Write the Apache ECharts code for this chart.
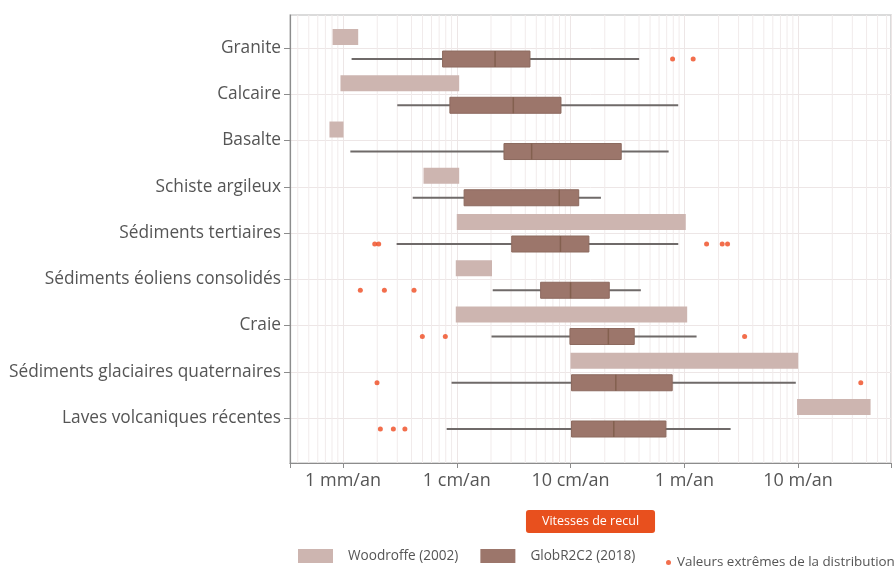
<!DOCTYPE html>
<html>
<head>
<meta charset="utf-8">
<script src="https://cdn.jsdelivr.net/npm/echarts@6/dist/echarts.min.js"></script>
<style>html,body{margin:0;padding:0;background:#fff}#c{width:895px;height:569px}</style>
</head>
<body>
<div id="c"></div>
<script>
// Categories (top to bottom)
const categories = ['Granite','Calcaire','Basalte','Schiste argileux','Sédiments tertiaires','Sédiments éoliens consolidés','Craie','Sédiments glaciaires quaternaires','Laves volcaniques récentes'];
// Values in mm/an
const woodroffeLow  = [0.81, 0.95, 0.76, 5.1, 10, 9.8, 9.8, 100, 9800];
const woodroffeHigh = [1.36, 10.5, 1.01, 10.5, 1030, 20.4, 1060, 10000, 43400];
const globMin = [1.19, 3.0, 1.16, 4.1, 2.96, 20.7, 20.2, 9.0, 8.15];
const globQ1  = [7.5, 8.7, 26, 11.6, 30.4, 54.6, 98.8, 102, 102];
const globMed = [21.7, 31.4, 45.5, 79.6, 81.5, 100, 215, 250, 240];
const globQ3  = [44, 82.4, 279, 118, 145, 219, 363, 783, 689];
const globMax = [401, 884, 728, 185, 885, 415, 1282, 9550, 2553];
// Outliers: [category index, value]
const outlierCat = [0, 0, 4, 4, 4, 4, 4, 5, 5, 5, 6, 6, 6, 7, 7, 8, 8, 8];
const outlierVal = [789, 1197, 1.9, 2.06, 1570, 2153, 2400, 1.42, 2.31, 4.21, 4.98, 7.93, 3390, 1.99, 35600, 2.13, 2.77, 3.5];
// Axis tick labels
const tickValues = [1, 10, 100, 1000, 10000];
const tickLabels = ['1 mm/an', '1 cm/an', '10 cm/an', '1 m/an', '10 m/an'];

const xMin = 0.342, xMax = 65600;
const yMin = -0.714, yMax = 8.973;

const minorVals = [];
for (let d = -1; d <= 4; d++) {
  for (let k = 2; k <= 9; k++) {
    const v = k * Math.pow(10, d);
    if (v > xMin && v < xMax) minorVals.push(v);
  }
}

const woodData = categories.map((c, i) => [woodroffeLow[i], woodroffeHigh[i], i]);
const boxData = categories.map((c, i) => [globMin[i], globQ1[i], globMed[i], globQ3[i], globMax[i], i]);
const outData = outlierVal.map((v, i) => [v, outlierCat[i]]);

const FONT = 'Open Sans';
const chart = echarts.init(document.getElementById('c'));
chart.setOption({
  animation: false,
  textStyle: { fontFamily: FONT },
  grid: { left: 290, right: 4, top: 15, bottom: 106, show: true, borderColor: '#cfcfcf', borderWidth: 1.5 },
  xAxis: {
    type: 'log', logBase: 10, min: xMin, max: xMax,
    name: 'Vitesses de recul', nameLocation: 'middle', nameGap: 47,
    nameTextStyle: { color: '#fff', fontSize: 12.5, backgroundColor: '#e8501e', padding: [5, 16, 5, 16], borderRadius: 3, fontFamily: FONT },
    axisLine: { show: true, onZero: false, lineStyle: { color: '#8c8c8c', width: 1.2 } },
    axisTick: { show: true, length: 5, lineStyle: { color: '#8c8c8c' } },
    axisLabel: {
      color: '#555', fontSize: 18, margin: 9, fontFamily: FONT,
      formatter: v => { const idx = tickValues.findIndex(t => Math.abs(Math.log10(v) - Math.log10(t)) < 1e-6); return idx >= 0 ? tickLabels[idx] : ''; }
    },
    splitLine: { show: true, lineStyle: { color: '#ede6e6', width: 1 } }
  },
  yAxis: {
    type: 'value', inverse: true, min: yMin, max: yMax,
    axisLine: { show: true, onZero: false, lineStyle: { color: '#8c8c8c', width: 1.2 } },
    axisTick: { show: true, length: 6, customValues: categories.map((c, i) => i), lineStyle: { color: '#8c8c8c' } },
    axisLabel: { color: '#555', fontSize: 17.3, margin: 9, fontFamily: FONT, customValues: categories.map((c, i) => i), formatter: v => categories[Math.round(v)] || '' },
    splitLine: { show: true, lineStyle: { color: '#ede6e6', width: 1 } }
  },
  legend: [
    { data: ['Woodroffe (2002)', 'GlobR2C2 (2018)'], left: 293, top: 544, icon: 'rect', itemWidth: 35, itemHeight: 14, itemGap: 22,
      textStyle: { color: '#555', fontSize: 13.6, fontFamily: FONT, padding: [10, 0, 0, 10] } },
    { data: ['Valeurs extrêmes de la distribution'], left: 661, top: 551, icon: 'circle', itemWidth: 5, itemHeight: 5,
      textStyle: { color: '#555', fontSize: 13.4, fontFamily: FONT, padding: [2, 0, 0, 1] } }
  ],
  series: [
    {
      name: 'minor', type: 'custom', silent: true, z: 0, data: minorVals.map(v => [v]),
      renderItem: (params, api) => {
        const a = api.coord([api.value(0), yMin]);
        const b = api.coord([api.value(0), yMax]);
        return { type: 'line', shape: { x1: a[0], y1: a[1], x2: b[0], y2: b[1] }, style: { stroke: '#f1ebeb', lineWidth: 1 } };
      }
    },
    {
      name: 'Woodroffe (2002)', type: 'custom', z: 3, data: woodData,
      itemStyle: { color: '#cdb5b0' },
      encode: { x: [0, 1], y: 2 },
      renderItem: (params, api) => {
        const lo = api.coord([api.value(0), api.value(2)]);
        const hi = api.coord([api.value(1), api.value(2)]);
        return { type: 'rect', shape: { x: lo[0], y: lo[1] - 11 - 8, width: hi[0] - lo[0], height: 16 }, style: { fill: '#cdb5b0' } };
      }
    },
    {
      name: 'GlobR2C2 (2018)', type: 'custom', z: 3, data: boxData,
      itemStyle: { color: '#9c766b' },
      encode: { x: [0, 1, 2, 3, 4], y: 5 },
      renderItem: (params, api) => {
        const y = api.value(5);
        const pMin = api.coord([api.value(0), y]);
        const pQ1 = api.coord([api.value(1), y]);
        const pMed = api.coord([api.value(2), y]);
        const pQ3 = api.coord([api.value(3), y]);
        const pMax = api.coord([api.value(4), y]);
        const cy = pMin[1] + 11;
        return {
          type: 'group', children: [
            { type: 'line', shape: { x1: pMin[0], y1: cy, x2: pMax[0], y2: cy }, style: { stroke: '#6f6a69', lineWidth: 1.8 } },
            { type: 'rect', shape: { x: pQ1[0], y: cy - 8, width: pQ3[0] - pQ1[0], height: 16 }, style: { fill: '#9c766b', stroke: '#8d6a5f', lineWidth: 1 } },
            { type: 'line', shape: { x1: pMed[0], y1: cy - 8, x2: pMed[0], y2: cy + 8 }, style: { stroke: '#83604f', lineWidth: 1.5 } }
          ]
        };
      }
    },
    {
      name: 'Valeurs extrêmes de la distribution', type: 'scatter', z: 4, data: outData,
      symbol: 'circle', symbolSize: 5, symbolOffset: [0, 11],
      itemStyle: { color: '#ef4a1f' }
    }
  ]
});
</script>
</body>
</html>
